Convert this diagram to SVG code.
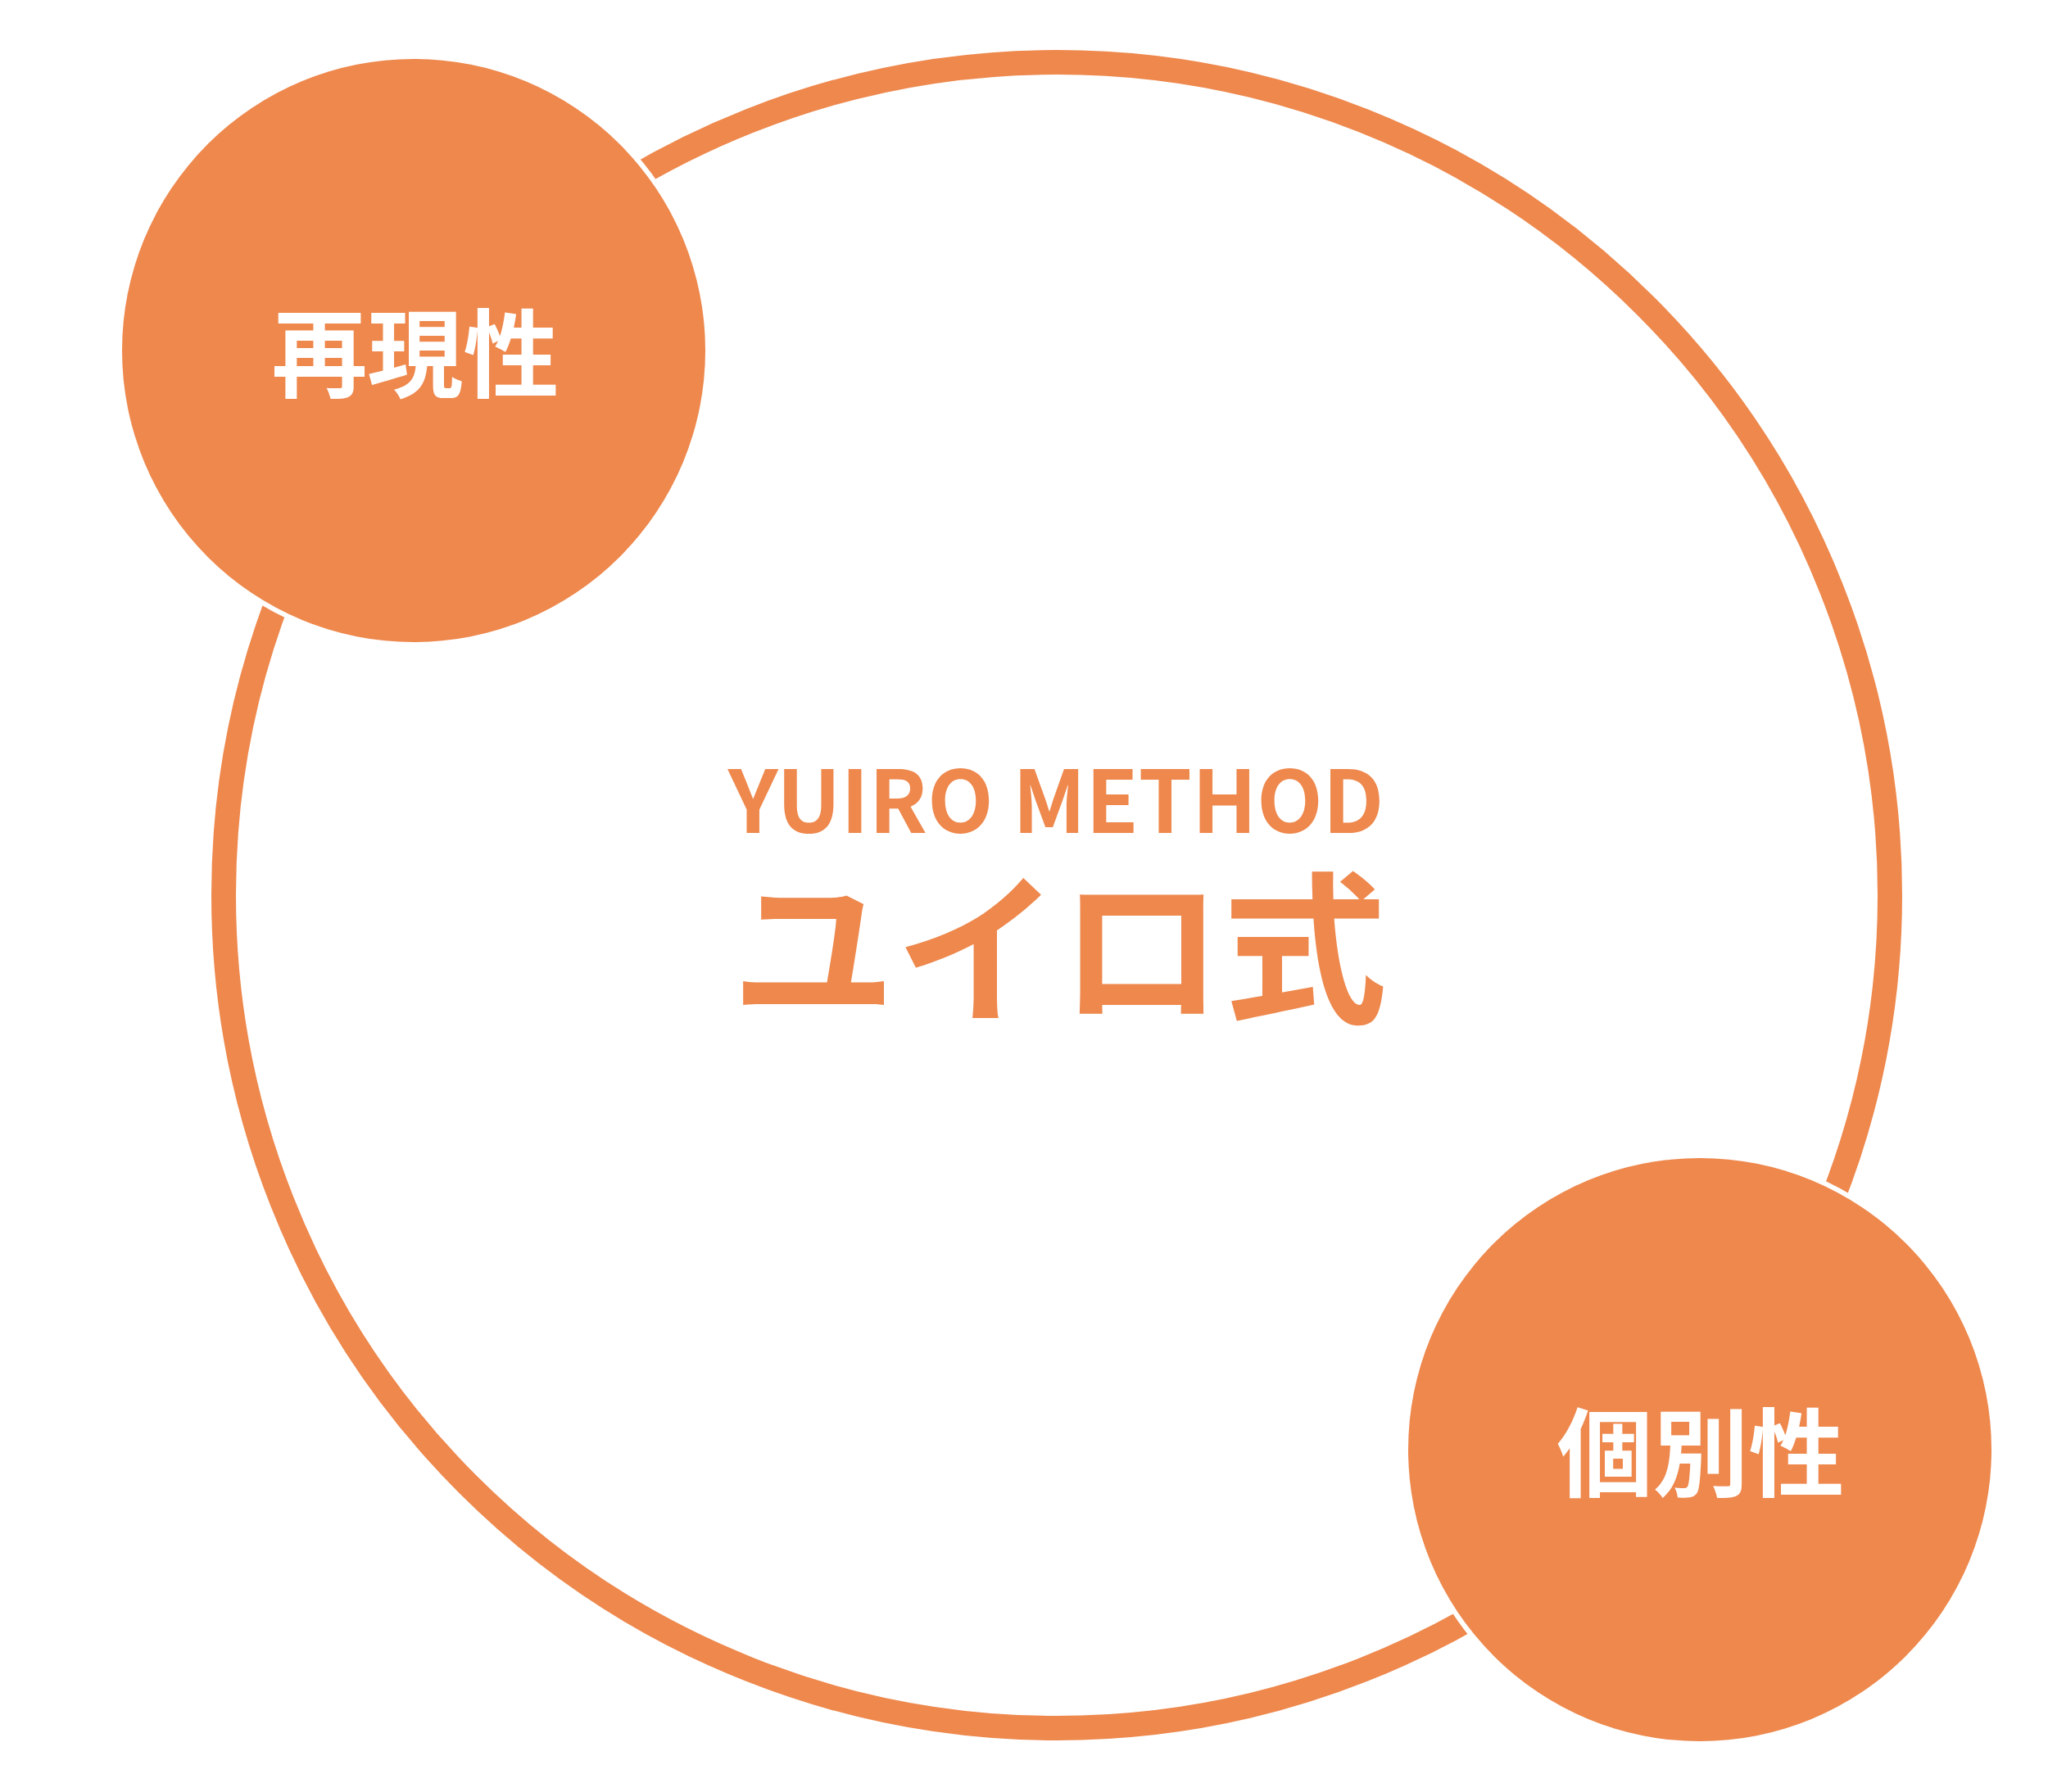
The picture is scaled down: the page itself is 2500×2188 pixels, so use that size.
<svg xmlns="http://www.w3.org/2000/svg" width="2500" height="2188" viewBox="0 0 2500 2188">
  <style>
    .ring { fill: none; stroke: #EE884D; stroke-width: 30; }
    .gap { fill: #FFFFFF; }
    .dot { fill: #EE884D; }
    .lbl { font-family: "Noto Sans CJK JP", "Noto Sans", sans-serif; font-weight: 700; text-anchor: middle; dominant-baseline: central; }
    .white { fill: #FFFFFF; }
    .orange { fill: #EE884D; }
  </style>
  <rect x="0" y="0" width="2500" height="2188" fill="#FFFFFF"/>
  <g id="connectors">
    <circle class="ring" cx="1290" cy="1093" r="1017"/>
  </g>
  <g id="center">
    <text class="orange" x="1289" y="1017" font-family="Noto Sans CJK JP, Noto Sans, sans-serif" font-weight="700" font-size="105" letter-spacing="-0.3" text-anchor="middle">YUIRO METHOD</text>
    <text class="lbl orange" x="1293" y="1147" font-size="200">ユイロ式</text>
  </g>
  <g id="node-reproducibility">
    <circle class="gap" cx="505" cy="428" r="362"/>
    <circle class="dot" cx="505" cy="428" r="356"/>
    <text class="lbl white" x="507" y="425" font-size="117">再現性</text>
  </g>
  <g id="node-individuality">
    <circle class="gap" cx="2075" cy="1770" r="362"/>
    <circle class="dot" cx="2075" cy="1770" r="356"/>
    <text class="lbl white" x="2076" y="1767" font-size="117">個別性</text>
  </g>
</svg>
